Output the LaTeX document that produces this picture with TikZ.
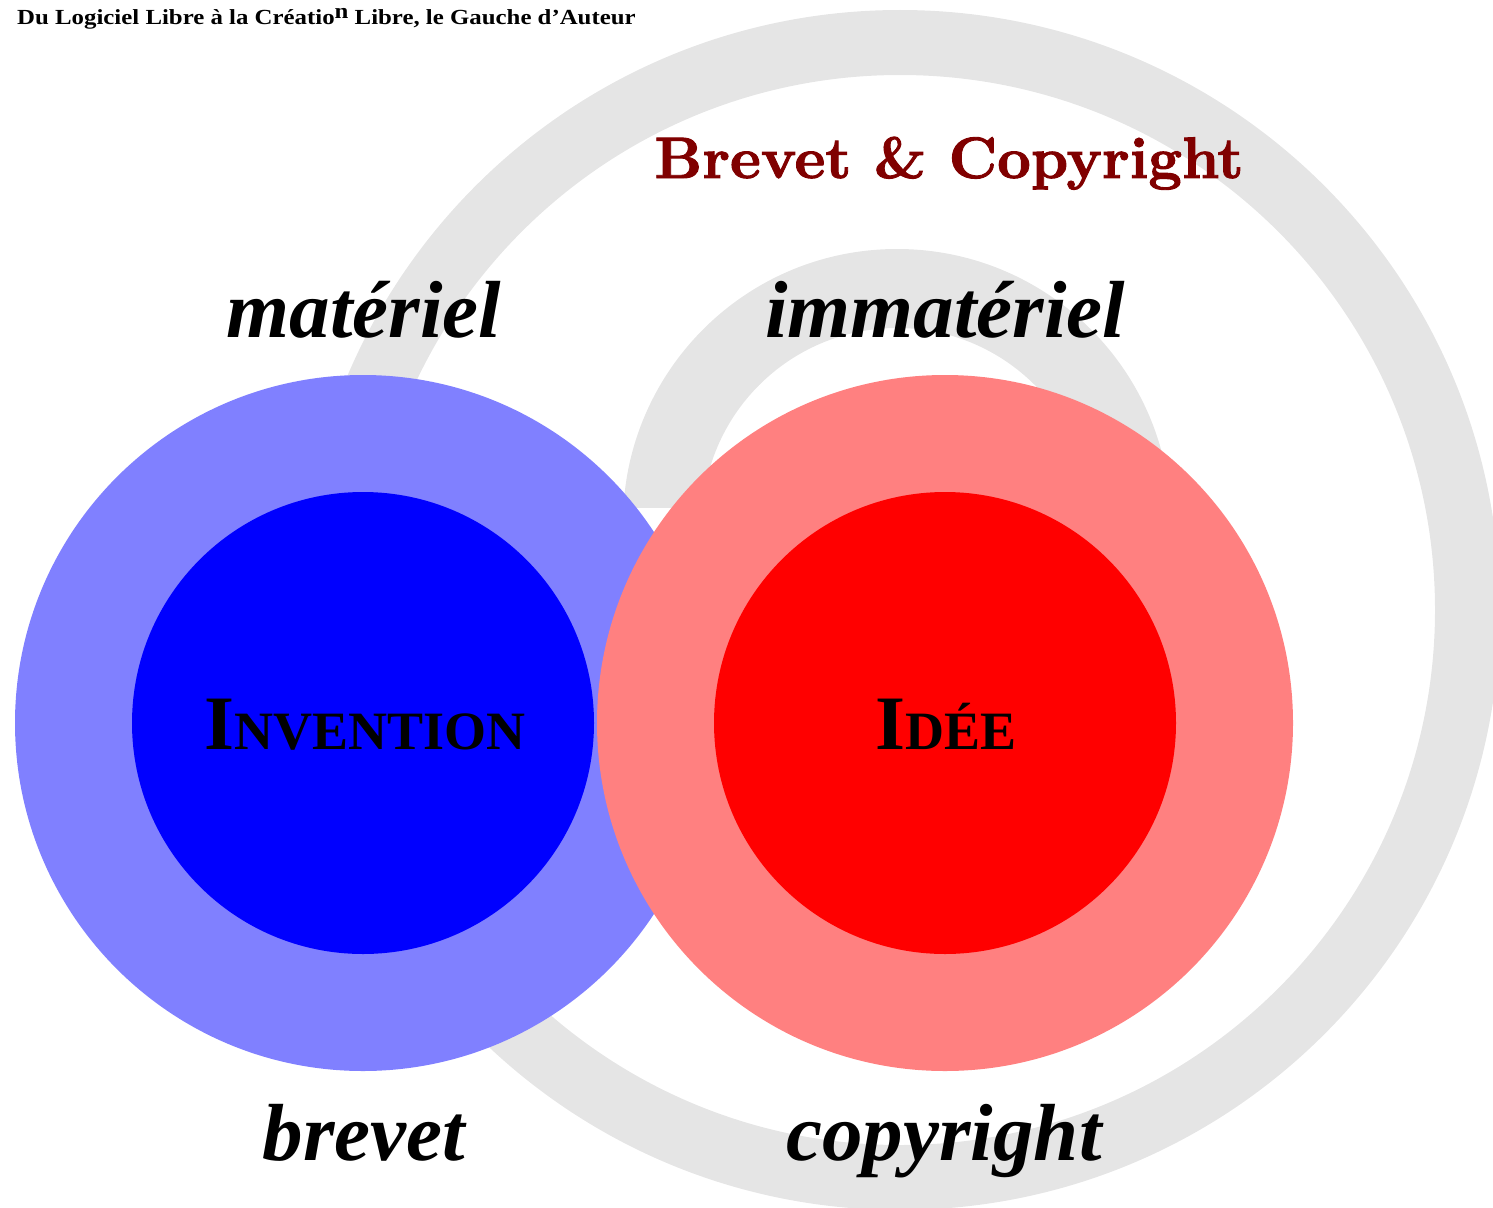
\documentclass[tikz,border=0pt]{standalone}
\usepackage{fontspec}
\newfontfamily\pal{Liberation Serif}
\newfontfamily\lmbx{lmroman10-bold.otf}[FakeBold=1.6]
\definecolor{ringgrey}{RGB}{229,229,229}
\definecolor{darkred}{RGB}{128,0,0}
\newcommand{\fakesc}[2]{{\fontsize{77}{80}\selectfont #1}{\fontsize{54}{60}\selectfont #2}}
\tikzset{
  disc/.style={circle, inner sep=0pt, draw=none},
  biglabel/.style={anchor=base, inner sep=0pt, font=\pal\fontsize{81}{88}\selectfont\bfseries\itshape},
  sclabel/.style={anchor=base, inner sep=0pt, font=\pal\bfseries},
}
\begin{document}
\begin{tikzpicture}[x=1pt,y=-1pt]
\useasboundingbox (0,0) rectangle (1493,1207);
\begin{scope}
\clip (0,0) rectangle (1493,1207);
% big grey ring
\fill[ringgrey, even odd rule] (900,610) circle[radius=600pt] (900,610) circle[radius=535pt];
\end{scope}
\begin{scope}
\clip (0,0) rectangle (1493,507);
% small grey half ring
\fill[ringgrey, even odd rule] (897,523) circle[radius=274pt] (897,523) circle[radius=195pt];
\end{scope}
% blue discs
\node[disc, fill=blue!50, minimum size=696pt] (blueout) at (363,723) {};
\node[disc, fill=blue, minimum size=462pt] (bluein) at (363,723) {};
% red discs
\node[disc, fill=red!50, minimum size=696pt] (redout) at (945,723) {};
\node[disc, fill=red, minimum size=462pt] (redin) at (945,723) {};
% texts
\node[anchor=base west, inner sep=0pt, font=\pal\fontsize{21.5}{24}\selectfont\bfseries] (title) at (17,25)
  {\scalebox{1.155}[1]{Du Logiciel Libre à la Créatio\raisebox{.3em}{n} Libre, le Gauche d’Auteur}};
\node[anchor=base, inner sep=0pt, text=darkred, font=\lmbx\fontsize{58.5}{64}\selectfont] (bc) at (949,178) {Brevet \& Copyright};
\node[biglabel] (mat) at (364,337) {matériel};
\node[biglabel] (immat) at (945,337) {immatériel};
\node[biglabel] (brev) at (364,1160) {brevet};
\node[biglabel] (copy) at (944,1160) {copyright};
\node[sclabel] (inv) at (365,749) {\fakesc{I}{NVENTION}};
\node[sclabel] (idee) at (946,749) {\fakesc{I}{DÉE}};
\end{tikzpicture}
\end{document}
